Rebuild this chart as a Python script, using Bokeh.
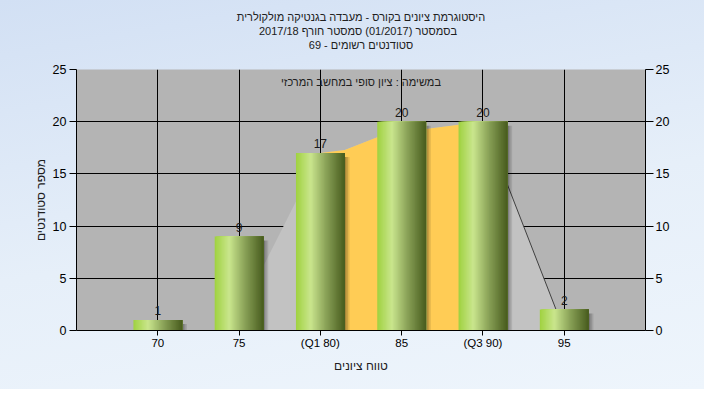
import numpy as np
from bokeh.plotting import figure
from bokeh.models import Range1d, LinearAxis, Title, Label, FixedTicker
from bokeh.core.properties import value
from bokeh.embed import file_html
from bokeh.resources import INLINE

# ---- data ----
scores = [70, 75, 80, 85, 90, 95]
counts = [1, 9, 17, 20, 20, 2]
tick_labels = ["70", "75", "(Q1 80)", "85", "(Q3 90)", "95"]
q1, q3 = 80, 90
curve_x = [70, 74.5, 80, 81.5, 83.5, 86.5, 88.5, 90, 95]
curve_y = [0, 0, 17, 17.3, 18.5, 19.3, 19.7, 20, 0]
y_ticks = [0, 5, 10, 15, 20, 25]
title_lines = [
    "היסטוגרמת ציונים בקורס - מעבדה בגנטיקה מולקולרית",
    "בסמסטר  (01/2017)  סמסטר חורף 2017/18",
    "סטודנטים רשומים - 69",
]
annotation = "במשימה : ציון סופי במחשב המרכזי"
x_label = "טווח ציונים"
y_label = "מספר סטודנטים"

FONT = "Liberation Sans"
W, H = 704, 389
FL, FR, FT, FB = 76, 645, 69, 330   # frame edges on the canvas

p = figure(width=W, height=H, x_range=Range1d(65, 100), y_range=Range1d(0, 25),
           output_backend="svg", toolbar_location=None,
           min_border_left=FL, min_border_right=W - FR, min_border_top=FT, min_border_bottom=H - FB)
p.background_fill_color = "#b4b4b4"
p.border_fill_color = None
p.outline_line_color = None
p.styles = {"background-image": "linear-gradient(170deg, #d2e0f4 0%, #e6eff9 55%, #eef5fc 100%)"}

# grid
p.xgrid.ticker = FixedTicker(ticks=scores)
p.ygrid.ticker = FixedTicker(ticks=y_ticks)
for g in (p.xgrid, p.ygrid):
    g.grid_line_color = "black"
    g.grid_line_width = 1

# background curve area
p.patch(curve_x, curve_y, fill_color="#c2c2c2", line_color=None)
ox = [x for x in curve_x if q1 <= x <= q3]
oy = [y for x, y in zip(curve_x, curve_y) if q1 <= x <= q3]
p.patch([ox[0]] + ox + [ox[-1]], [0] + oy + [0], fill_color="#ffcc55", line_color=None)
p.line(curve_x[-2:], curve_y[-2:], line_color="#404040", line_width=1)

# bars: shadow + gradient strips
bw = 3.0
px_per_x = (FR - FL) / 35.0
px_per_y = (FB - FT) / 25.0
for k, a in enumerate([0.35, 0.22, 0.1]):
    dx = 1.6 / px_per_x
    lefts = [s + bw / 2 + dx * k for s in scores]
    rights = [l + dx for l in lefts]
    tops = [c - 4 / px_per_y for c in counts]
    p.quad(left=lefts, right=rights, top=tops, bottom=0, fill_color="black", fill_alpha=a, line_color=None)

stops_t = [0.0, 0.3, 0.62, 1.0]
stops_c = [(160, 210, 64), (202, 230, 142), (138, 162, 88), (72, 92, 30)]
n = 40
for j in range(n):
    t = (j + 0.5) / n
    rgb = [int(np.interp(t, stops_t, [c[i] for c in stops_c])) for i in range(3)]
    col = "#%02x%02x%02x" % tuple(rgb)
    lefts = [s - bw / 2 + j * bw / n for s in scores]
    rights = [s + bw / 2 for s in scores]
    p.quad(left=lefts, right=rights, top=counts, bottom=0, fill_color=col, line_color=None)

# value labels
p.text(x=scores, y=counts, text=[str(c) for c in counts], text_align="center",
       text_baseline="bottom", y_offset=-5, text_font=value(FONT),
       text_font_size="12px", text_color="#1a1a1a")

# annotation
p.add_layout(Label(x=82.5, y=23.8, text=annotation, text_align="center", text_baseline="middle",
                   text_font=FONT, text_font_size="11px", text_color="#202020"))

# axes
p.xaxis.ticker = FixedTicker(ticks=scores)
p.xaxis.major_label_overrides = {s: l for s, l in zip(scores, tick_labels)}
p.yaxis.ticker = FixedTicker(ticks=y_ticks)
right = LinearAxis(ticker=FixedTicker(ticks=y_ticks))
p.add_layout(right, "right")
for ax in [p.xaxis[0], p.yaxis[0], right]:
    ax.axis_line_color = "black"
    ax.major_tick_line_color = "black"
    ax.minor_tick_line_color = None
    ax.major_tick_in = 0
    ax.major_label_text_font = FONT
    ax.major_label_text_color = "black"
    ax.axis_label_text_font = FONT
    ax.axis_label_text_font_style = "normal"
    ax.axis_label_text_font_size = "12px"
    ax.axis_label_text_color = "#202020"
p.xaxis.major_tick_out = 5
p.xaxis.major_label_standoff = 1
p.xaxis.major_label_text_font_size = "11.5px"
p.xaxis.axis_label = x_label
p.xaxis.axis_label_standoff = 7
p.yaxis[0].major_tick_out = 7
p.yaxis[0].major_label_standoff = 3
p.yaxis[0].major_label_text_font_size = "12.5px"
p.yaxis[0].axis_label = y_label
p.yaxis[0].axis_label_standoff = 2
right.major_tick_out = 8
right.major_label_standoff = 2
right.major_label_text_font_size = "12.5px"

# titles (added nearest-to-frame first); a blank spacer sits between frame and titles
p.add_layout(Title(text=" ", text_font_size="16px", standoff=0), "above")
for line in reversed(title_lines):
    p.add_layout(Title(text=line, align="center", offset=-10, text_font=FONT,
                       text_font_size="11px", text_font_style="normal", text_line_height=1.0,
                       text_color="#202020", standoff=0), "above")

open("out.html", "w").write(file_html(p, INLINE))
